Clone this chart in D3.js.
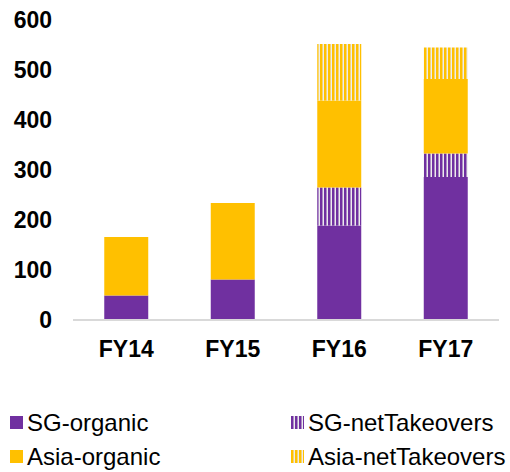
<!DOCTYPE html>
<html>
<head>
<meta charset="utf-8">
<script src="https://cdn.jsdelivr.net/npm/d3@7"></script>
<style>
  body { margin: 0; background: #fff; }
  text { font-family: Arial, "Liberation Sans", sans-serif; }
</style>
</head>
<body>
<svg id="chart"></svg>
<script>
const years = ["FY14", "FY15", "FY16", "FY17"];
const sgOrganic = [49, 81, 189, 286];
const sgNetTakeovers = [0, 0, 76, 47];
const asiaOrganic = [117, 153, 174, 149];
const asiaNetTakeovers = [-2, -2, 113, 63];
const yTicks = [0, 100, 200, 300, 400, 500, 600];

const keys = ["SG-organic", "SG-netTakeovers", "Asia-organic", "Asia-netTakeovers"];
const fills = {
  "SG-organic": "#7030a0",
  "SG-netTakeovers": "url(#stripe-purple)",
  "Asia-organic": "#ffc000",
  "Asia-netTakeovers": "url(#stripe-yellow)"
};

const width = 510, height = 472;
const margin = {top: 20, right: 11, bottom: 152, left: 73};

const svg = d3.select("#chart")
  .attr("width", width)
  .attr("height", height);

// stripe patterns
const defs = svg.append("defs");
[["stripe-purple", "#7030a0"], ["stripe-yellow", "#ffc000"]].forEach(([id, c]) => {
  const p = defs.append("pattern")
    .attr("id", id)
    .attr("patternUnits", "userSpaceOnUse")
    .attr("width", 4)
    .attr("height", 4);
  p.append("rect").attr("width", 4).attr("height", 4).attr("fill", "#ececec");
  p.append("rect").attr("width", 2.5).attr("height", 4).attr("fill", c);
});

const data = years.map((y, i) => ({
  year: y,
  "SG-organic": sgOrganic[i],
  "SG-netTakeovers": sgNetTakeovers[i],
  "Asia-organic": asiaOrganic[i],
  "Asia-netTakeovers": asiaNetTakeovers[i]
}));

const x = d3.scaleBand()
  .domain(years)
  .range([margin.left, width - margin.right])
  .paddingInner(0.587)
  .paddingOuter(0.2935);

const y = d3.scaleLinear()
  .domain([0, 600])
  .range([height - margin.bottom, margin.top]);

const series = d3.stack()
  .keys(keys)
  .offset(d3.stackOffsetDiverging)(data);

svg.append("g")
  .selectAll("g")
  .data(series)
  .join("g")
    .attr("fill", d => fills[d.key])
  .selectAll("rect")
  .data(d => d)
  .join("rect")
    .attr("x", d => x(d.data.year))
    .attr("y", d => y(Math.max(d[0], d[1])))
    .attr("width", x.bandwidth())
    .attr("height", d => Math.abs(y(d[0]) - y(d[1])));

// baseline
svg.append("line")
  .attr("x1", margin.left)
  .attr("x2", width - margin.right)
  .attr("y1", y(0))
  .attr("y2", y(0))
  .attr("stroke", "#d9d9d9")
  .attr("stroke-width", 2);

// y tick labels
svg.append("g")
  .selectAll("text")
  .data(yTicks)
  .join("text")
    .attr("x", 52)
    .attr("y", d => y(d))
    .attr("dy", "0.36em")
    .attr("text-anchor", "end")
    .attr("font-size", "23px")
    .attr("font-weight", "bold")
    .attr("fill", "#000")
    .text(d => d);

// x labels
svg.append("g")
  .selectAll("text")
  .data(years)
  .join("text")
    .attr("x", d => x(d) + x.bandwidth() / 2)
    .attr("y", 357)
    .attr("text-anchor", "middle")
    .attr("font-size", "23px")
    .attr("font-weight", "bold")
    .attr("fill", "#000")
    .text(d => d);

// legend
const legendPos = [
  {key: "SG-organic", x: 10, y: 416},
  {key: "SG-netTakeovers", x: 291, y: 416},
  {key: "Asia-organic", x: 10, y: 450},
  {key: "Asia-netTakeovers", x: 291, y: 450}
];

const legend = svg.append("g")
  .selectAll("g")
  .data(legendPos)
  .join("g")
    .attr("transform", d => `translate(${d.x},${d.y})`);

legend.append("rect")
  .attr("width", 13)
  .attr("height", 13)
  .attr("fill", d => fills[d.key]);

legend.append("text")
  .attr("x", 17)
  .attr("y", 15)
  .attr("font-size", "24px")
  .attr("fill", "#000")
  .text(d => d.key);
</script>
</body>
</html>
